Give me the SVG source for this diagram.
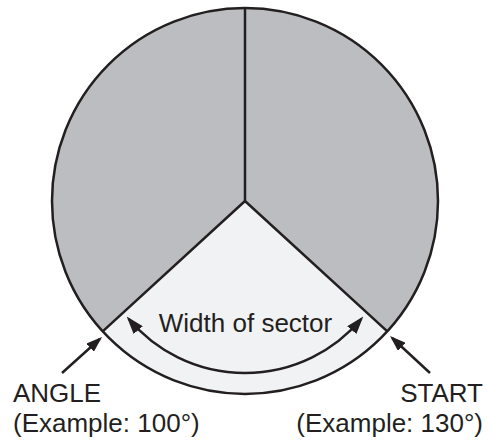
<svg xmlns="http://www.w3.org/2000/svg" width="493" height="443" viewBox="0 0 493 443">
<style>
.ln{stroke:#231f20;stroke-width:2.5;fill:none}
.up{fill:#bcbdc0;stroke:none}
.lo{fill:#f1f2f4;stroke:none}
.t{font-family:"Liberation Sans",Arial,Helvetica,sans-serif;font-size:26px;fill:#231f20}
</style>
<defs>
<marker id="ah" markerUnits="userSpaceOnUse" viewBox="0 0 18 12" markerWidth="18" markerHeight="12" refX="15" refY="6" orient="auto-start-reverse">
<path d="M0,0 L18,6 L0,12 z" fill="#231f20"/>
</marker>
<marker id="ahs" markerUnits="userSpaceOnUse" viewBox="0 0 16 11" markerWidth="16" markerHeight="11" refX="13" refY="5.5" orient="auto">
<path d="M0,0 L16,5.5 L0,11 z" fill="#231f20"/>
</marker>
</defs>
<g id="sector-left">
<path class="up" d="M245,201 L245,8 A193,193 0 0 0 102.7,331.4 Z"/>
</g>
<g id="sector-right">
<path class="up" d="M245,201 L245,8 A193,193 0 0 1 387.3,331.4 Z"/>
</g>
<g id="sector-width">
<path class="lo" d="M245,201 L102.7,331.4 A193,193 0 0 0 387.3,331.4 Z"/>
<text class="t" x="245.5" y="332" text-anchor="middle">Width of sector</text>
</g>
<g id="outline">
<circle class="ln" cx="245" cy="201" r="193"/>
<path class="ln" d="M245,8 L245,201 M102.7,331.4 L245,201 L387.3,331.4" stroke-linejoin="miter"/>
</g>
<g id="connectors">
<path class="ln" d="M128.6,318.7 A152,152 0 0 0 361.4,318.7" marker-start="url(#ah)" marker-end="url(#ah)"/>
<path class="ln" d="M62,373 L99.8,339" marker-end="url(#ahs)"/>
<path class="ln" d="M430,373 L392.2,338" marker-end="url(#ahs)"/>
</g>
<g id="label-angle">
<text class="t" x="13" y="402">ANGLE</text>
<text class="t" x="13" y="432">(Example: 100°)</text>
</g>
<g id="label-start">
<text class="t" x="483" y="402" text-anchor="end">START</text>
<text class="t" x="483" y="432" text-anchor="end">(Example: 130°)</text>
</g>
</svg>
